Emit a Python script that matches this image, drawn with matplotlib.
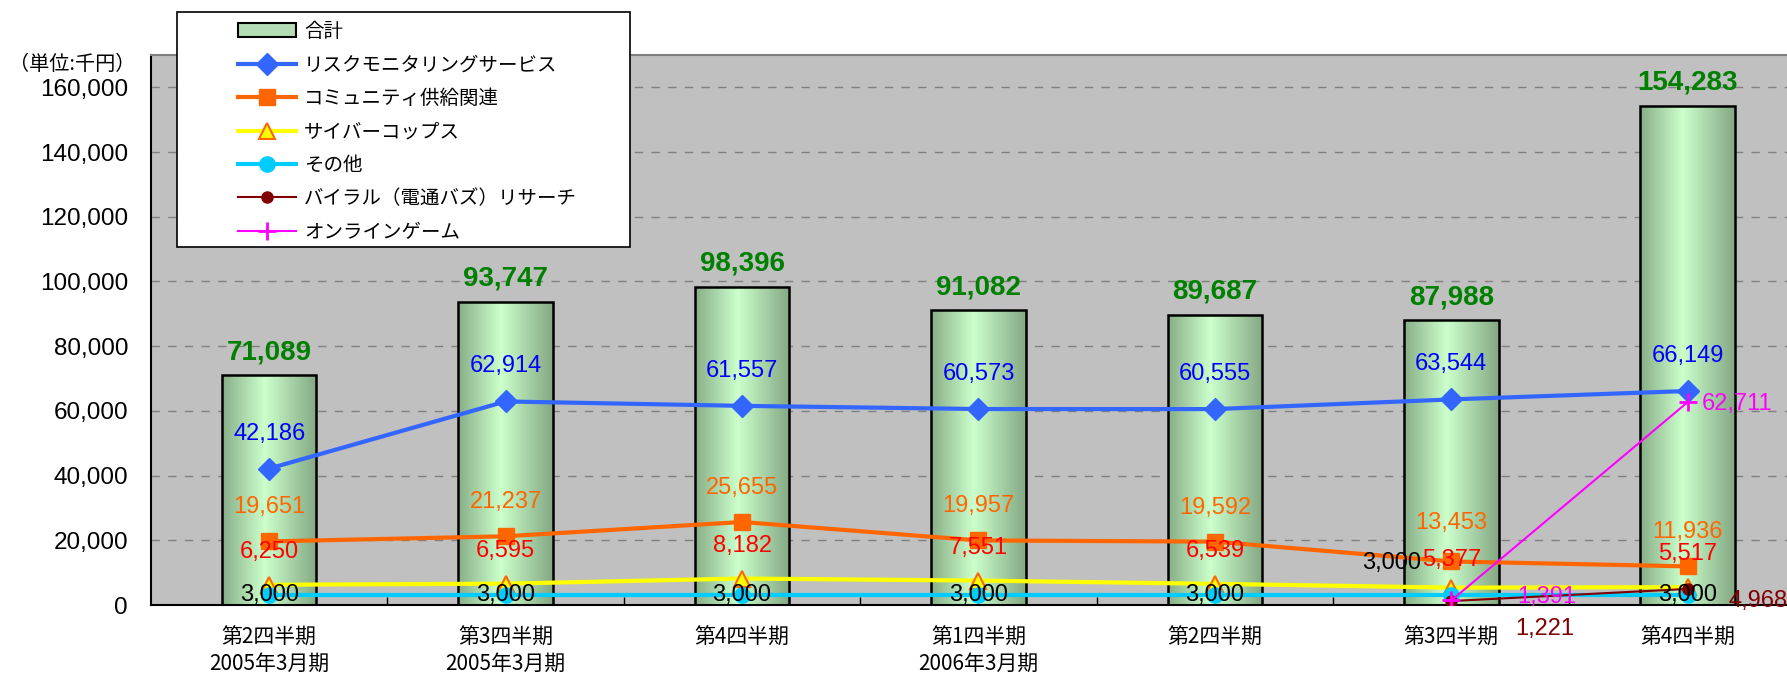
import numpy as np
import matplotlib
matplotlib.use("Agg")
import matplotlib.pyplot as plt
from matplotlib.colors import LinearSegmentedColormap
from matplotlib.patches import Rectangle, Patch
from matplotlib.font_manager import FontProperties
from matplotlib.ticker import FuncFormatter, FixedLocator

# ---- data (千円) ----
quarters = ["第2四半期\n2005年3月期", "第3四半期\n2005年3月期", "第4四半期",
            "第1四半期\n2006年3月期", "第2四半期", "第3四半期", "第4四半期"]
total = [71089, 93747, 98396, 91082, 89687, 87988, 154283]
risk_monitoring = [42186, 62914, 61557, 60573, 60555, 63544, 66149]
community = [19651, 21237, 25655, 19957, 19592, 13453, 11936]
cyber_cops = [6250, 6595, 8182, 7551, 6539, 5377, 5517]
other = [3000, 3000, 3000, 3000, 3000, 3000, 3000]
viral = [np.nan, np.nan, np.nan, np.nan, np.nan, 1221, 4968]
online_game = [np.nan, np.nan, np.nan, np.nan, np.nan, 1391, 62711]

CJK = ["Noto Sans CJK JP", "DejaVu Sans"]
NUM = ["Liberation Sans", "DejaVu Sans"]

W, H = 1787, 676
fig = plt.figure(figsize=(W / 100, H / 100), dpi=100)
fig.patch.set_facecolor("white")
ax = fig.add_axes([151 / W, 71 / H, (W - 151) / W, 550 / H])
ax.set_facecolor("#C0C0C0")

x = np.arange(len(quarters))

# ---- bars with a cylinder-like gradient ----
bar_cmap = LinearSegmentedColormap.from_list(
    "bar", [(0.0, "#88AE88"), (0.45, "#CCFFCC"), (1.0, "#84A884")])
grad = np.linspace(0, 1, 256).reshape(1, -1)
bars = ax.bar(x, total, width=0.40, facecolor="none", edgecolor="black",
              linewidth=1.8, zorder=2)
for b in bars:
    x0, y0, w, h = b.get_x(), b.get_y(), b.get_width(), b.get_height()
    im = ax.imshow(grad, cmap=bar_cmap, extent=(x0, x0 + w, y0, y0 + h),
                   aspect="auto", zorder=1.9, interpolation="bicubic")
    im.set_clip_path(b)

# ---- line series ----
series = [
    ("リスクモニタリングサービス", risk_monitoring,
     dict(color="#3366FF", lw=3, marker="D", ms=11, mfc="#3366FF", mec="#3366FF"),
     "#0000FF", (0, 35)),
    ("コミュニティ供給関連", community,
     dict(color="#FF6600", lw=3, marker="s", ms=11, mfc="#FF6600", mec="#FF6600"),
     "#FF6600", (0, 34)),
    ("サイバーコップス", cyber_cops,
     dict(color="#FFFF00", lw=3, marker="^", ms=11, mfc="#FFFF00", mec="#FF6600", mew=1.5),
     "#FF0000", (0, 33)),
    ("その他", other,
     dict(color="#00CCFF", lw=3, marker="o", ms=11, mfc="#00CCFF", mec="#00CCFF"),
     "#000000", (0, 0)),
    ("バイラル（電通バズ）リサーチ", viral,
     dict(color="#800000", lw=1.5, marker="o", ms=8, mfc="#800000", mec="#800000"),
     "#800000", (0, 0)),
    ("オンラインゲーム", online_game,
     dict(color="#FF00FF", lw=1.5, marker="+", ms=13, mew=2),
     "#FF00FF", (0, 0)),
]

# label offsets (pixels) that differ from a series' default
offset_overrides = {
    (1, 5): (0, 38),
    (2, 5): (0, 28),
    (3, 5): (-60, 32),
    (4, 5): (93, -28),
    (4, 6): (70, -12),
    (5, 5): (95, 3),
    (5, 6): (49, -2),
}

handles = [Patch(facecolor="#B5DDB5", edgecolor="black", linewidth=1.5)]
labels = ["合計"]
for si, (name, vals, style, lcolor, off) in enumerate(series):
    ln, = ax.plot(x, vals, zorder=3 + si * 0.1, solid_joinstyle="round", **style)
    handles.append(ln)
    labels.append(name)

# ---- value labels ----
for i, v in enumerate(total):
    ax.annotate(f"{v:,}", (x[i], v), xytext=(0, 23), textcoords="offset pixels",
                ha="center", va="center", color="#008000", fontweight="bold",
                fontsize=20, family=NUM, zorder=10)

for si, (name, vals, style, lcolor, off) in enumerate(series):
    for i, v in enumerate(vals):
        if np.isnan(v):
            continue
        dx, dy = offset_overrides.get((si, i), off)
        ax.annotate(f"{int(v):,}", (x[i], v), xytext=(dx, dy),
                    textcoords="offset pixels", ha="center", va="center",
                    color=lcolor, fontsize=17, family=NUM, zorder=10,
                    annotation_clip=False)

# ---- axes styling ----
ax.set_xlim(-0.5, 6.42)
ax.set_ylim(0, 170000)
ax.yaxis.set_major_locator(FixedLocator(np.arange(0, 160001, 20000)))
ax.yaxis.set_major_formatter(FuncFormatter(lambda v, p: f"{int(v):,}"))
ax.yaxis.grid(True, color="#808080", linestyle=(0, (6, 6)), linewidth=1)
ax.set_axisbelow(True)
ax.tick_params(axis="y", length=0, pad=16.5, labelsize=17.5)
for t in ax.get_yticklabels():
    t.set_family(NUM)

ax.set_xticks(x)
ax.set_xticklabels(quarters, family=CJK, fontsize=15, linespacing=1.25)
ax.tick_params(axis="x", which="major", length=0, pad=15.5)
ax.xaxis.set_minor_locator(FixedLocator(np.arange(0.5, 6.0, 1.0)))
ax.tick_params(axis="x", which="minor", direction="in", length=6, width=1,
               color="black")

ax.spines["left"].set_color("black")
ax.spines["left"].set_linewidth(1.5)
ax.spines["bottom"].set_color("black")
ax.spines["bottom"].set_linewidth(1.5)
ax.spines["top"].set_color("#808080")
ax.spines["top"].set_linewidth(1.5)
ax.spines["right"].set_visible(False)

# unit label
fig.text(9 / W, 1 - 65 / H, "（単位:千円）", ha="left", va="center",
         fontsize=14.5, family=CJK)

# ---- legend with its own frame ----
fig.add_artist(Rectangle((177 / W, 429 / H), 453 / W, 235 / H,
                         transform=fig.transFigure, facecolor="white",
                         edgecolor="black", linewidth=1.2, zorder=4))
fig.legend(handles, labels, loc="upper left",
           bbox_to_anchor=(238 / W, 1 - 21 / H), bbox_transform=fig.transFigure,
           frameon=False, borderpad=0, borderaxespad=0, handlelength=3.0,
           handletextpad=0.4, labelspacing=0.64,
           prop=FontProperties(family=CJK, size=14)).set_zorder(5)

fig.savefig("out.png", dpi=100)
